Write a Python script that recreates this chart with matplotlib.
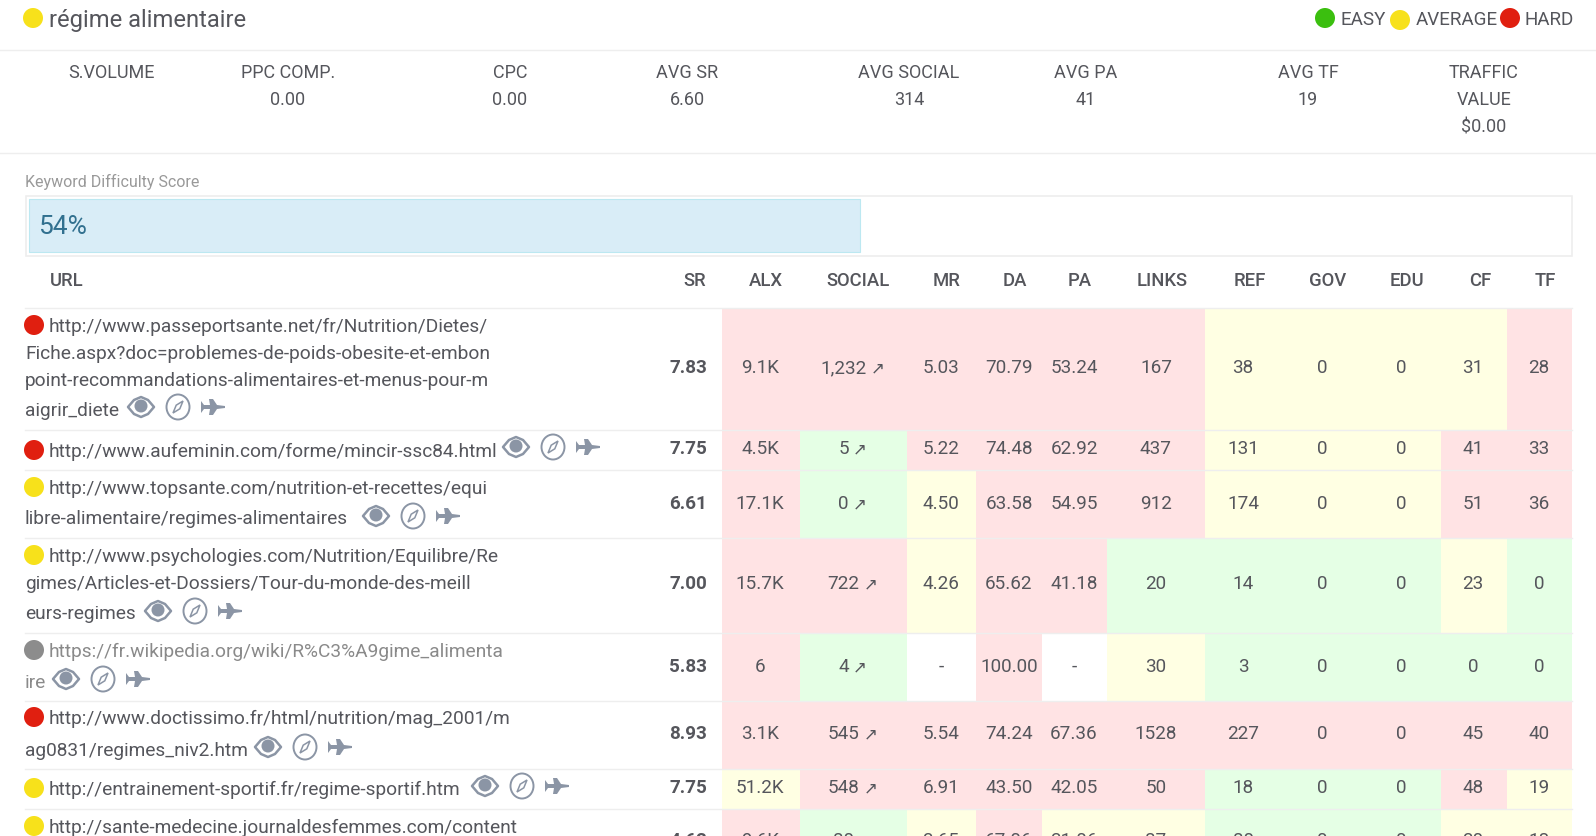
import matplotlib
matplotlib.use('Agg')
import matplotlib.pyplot as plt
from matplotlib.patches import Circle, Ellipse, Polygon, Rectangle

plt.rcParams['font.family'] = ['Roboto', 'DejaVu Sans']

# data
keyword = 'régime alimentaire'
legend_labels = ['EASY', 'AVERAGE', 'HARD']
summary_heads = ['S.VOLUME', 'PPC COMP.', 'CPC', 'AVG SR', 'AVG SOCIAL', 'AVG PA', 'AVG TF', 'TRAFFIC\nVALUE']
summary_vals = ['', '0.00', '0.00', '6.60', '314', '41', '19', '$0.00']
score = 54
columns = ['SR', 'ALX', 'SOCIAL', 'MR', 'DA', 'PA', 'LINKS', 'REF', 'GOV', 'EDU', 'CF', 'TF']

url_lines = [
    ['http://www.passeportsante.net/fr/Nutrition/Dietes/', 'Fiche.aspx?doc=problemes-de-poids-obesite-et-embon',
     'point-recommandations-alimentaires-et-menus-pour-m', 'aigrir_diete'],
    ['http://www.aufeminin.com/forme/mincir-ssc84.html'],
    ['http://www.topsante.com/nutrition-et-recettes/equi', 'libre-alimentaire/regimes-alimentaires'],
    ['http://www.psychologies.com/Nutrition/Equilibre/Re', 'gimes/Articles-et-Dossiers/Tour-du-monde-des-meill', 'eurs-regimes'],
    ['https://fr.wikipedia.org/wiki/R%C3%A9gime_alimenta', 'ire'],
    ['http://www.doctissimo.fr/html/nutrition/mag_2001/m', 'ag0831/regimes_niv2.htm'],
    ['http://entrainement-sportif.fr/regime-sportif.htm'],
    ['http://sante-medecine.journaldesfemmes.com/content'],
]
row_levels = ['hard', 'hard', 'average', 'average', 'none', 'hard', 'average', 'average']

sr = ['7.83', '7.75', '6.61', '7.00', '5.83', '8.93', '7.75', '4.62']
alx = ['9.1K', '4.5K', '17.1K', '15.7K', '6', '3.1K', '51.2K', '9.6K']
social = ['1,232', '5', '0', '722', '4', '545', '548', '80']
mr = ['5.03', '5.22', '4.50', '4.26', '-', '5.54', '6.91', '3.65']
da = ['70.79', '74.48', '63.58', '65.62', '100.00', '74.24', '43.50', '67.06']
pa = ['53.24', '62.92', '54.95', '41.18', '-', '67.36', '42.05', '31.06']
links = ['167', '437', '912', '20', '30', '1528', '50', '87']
ref = ['38', '131', '174', '14', '3', '227', '18', '80']
gov = ['0', '0', '0', '0', '0', '0', '0', '0']
edu = ['0', '0', '0', '0', '0', '0', '0', '0']
cf = ['31', '41', '51', '23', '0', '45', '48', '30']
tf = ['28', '33', '36', '0', '0', '40', '19', '18']
table = [sr, alx, social, mr, da, pa, links, ref, gov, edu, cf, tf]

# R/Y/G/W per cell, ALX to TF
cell_levels = ['RRRRRRYYYYR', 'RGRRRRYYYRR', 'RGYRRRYYYRR', 'RRYRRGGGGYG',
               'RGWRWYGGGGG', 'RRRRRRRRRRR', 'YRRRRRGGGRY', 'RGYRYYGGGYY']

# layout in screenshot pixels
W, H = 1596, 837
LEFT, RIGHT = 25, 1572
col_edges = [722, 800, 907, 976, 1042, 1107, 1205, 1283, 1362, 1441, 1507, 1572]
head_x = [695, 766, 858, 947, 1015, 1080, 1162, 1250, 1328, 1407, 1480, 1545]
val_x = [688, 760, 852, 941, 1009, 1074, 1156, 1243, 1322, 1401, 1473, 1539]
row_edges = [309, 431, 471, 539, 634, 702, 770, 810, 860]
val_y = [367, 448, 503, 583, 666, 733, 787, 840]
line_y = [[326, 353, 380, 410], [451], [488, 518], [556, 583, 613], [651, 682], [718, 750], [789], [827]]
icon_x = [141, 516, 376, 158, 66, 268, 485]
icon_y = [408, 448, 517, 612, 680, 748, 787]
summary_x = [111, 288, 510, 687, 909, 1086, 1308, 1484]

TEXT = '#55565c'
ICON = '#8b95a5'
dots = {'easy': '#3bbf0f', 'average': '#f7e11b', 'hard': '#e01f10', 'none': '#8c8c8c'}
fills = {'R': '#ffe3e4', 'Y': '#ffffe3', 'G': '#e5ffe5', 'W': '#ffffff'}
LINE = '#eeeeee'

fig = plt.figure(figsize=(W / 100, H / 100), dpi=100)
ax = fig.add_axes([0, 0, 1, 1])
ax.set_xlim(0, W)
ax.set_ylim(H, 0)
ax.axis('off')


def dot(x, y, level):
    ax.add_patch(Circle((x, y), 10, color=dots[level], lw=0, zorder=4))


def label(x, y, s, size=13.6, ha='center', color=TEXT, **kw):
    return ax.text(x, y - 1, s, fontsize=size, ha=ha, va='center_baseline', color=color, zorder=5, **kw)


def social_label(x, y, s):
    # number plus a small thin arrow, centred together
    t = label(x, y, s, ha='left')
    w = t.get_window_extent(fig.canvas.get_renderer()).width
    t.set_x(x - (w + 17) / 2)
    label(x + (w + 17) / 2 - 6, y, '↗', size=12, family='DejaVu Sans')


def icons(x, y):
    # eye
    ax.add_patch(Polygon([(x - 13, y), (x - 7, y - 7), (x, y - 10), (x + 7, y - 7), (x + 13, y),
                          (x + 7, y + 7), (x, y + 10), (x - 7, y + 7)],
                         fc='none', ec=ICON, lw=1.8, joinstyle='round', zorder=4))
    ax.add_patch(Circle((x, y - 1), 6.5, color=ICON, lw=0, zorder=4))
    # compass
    cx = x + 37
    ax.add_patch(Ellipse((cx, y), 23, 25, fc='none', ec=ICON, lw=1.4, zorder=4))
    ax.add_patch(Polygon([(cx + 5, y - 6), (cx + 1.8, y + 1.8), (cx - 5, y + 6), (cx - 1.8, y - 1.8)],
                         fc='none', ec=ICON, lw=1.1, zorder=4))
    # plane
    px = x + 72
    ax.add_patch(Polygon([(px - 12, y - 6), (px - 9, y - 2), (px - 3, y - 2), (px - 4, y - 8), (px, y - 8),
                          (px + 4, y - 2), (px + 12, y - 1), (px + 12, y + 1), (px + 4, y + 2), (px, y + 8),
                          (px - 4, y + 8), (px - 3, y + 2), (px - 9, y + 2), (px - 12, y + 6)],
                         fc=ICON, ec='none', zorder=4))


# header strip
dot(33, 19, 'average')
label(49, 19, keyword, size=17.1, ha='left')
for x, y, lv in [(1325, 19, 'easy'), (1400, 21, 'average'), (1510, 19, 'hard')]:
    dot(x, y, lv)
for x, s in zip([1341, 1416, 1525], legend_labels):
    label(x, 19, s, ha='left')
ax.plot([0, W], [51, 51], color=LINE, lw=1)
ax.plot([0, W], [154, 154], color=LINE, lw=1)

# summary row
for x, head, val in zip(summary_x, summary_heads, summary_vals):
    parts = head.split('\n') + [val]
    for y, s in zip([72, 99, 126], parts):
        label(x, y, s, size=13)

# score bar
label(25, 181, 'Keyword Difficulty Score', size=11.5, ha='left', color='#999999')
ax.add_patch(Rectangle((25.5, 197), RIGHT - 25.5, 60, fc='white', ec=LINE, lw=1.2))
ax.barh(226.5, score / 100 * 1539, height=53, left=29, color='#d9edf7', edgecolor='#bce8f1', lw=0.8, zorder=2)
label(38, 225, f'{score}%', size=19, ha='left', color='#31708f')

# table head
label(49.5, 280, 'URL', size=13.3, ha='left', fontweight='medium')
for x, s in zip(head_x, columns):
    label(x, 280, s, size=13.3, fontweight='medium')

# cells
for r, levels in enumerate(cell_levels):
    top, bottom = row_edges[r], row_edges[r + 1]
    for c, lv in enumerate(levels):
        ax.add_patch(Rectangle((col_edges[c], top), col_edges[c + 1] - col_edges[c], bottom - top,
                               fc=fills[lv], ec='none', zorder=1))
for y in row_edges[:-1]:
    ax.plot([LEFT, RIGHT], [y, y], color=LINE, lw=1, zorder=3)

# urls and values
for r in range(len(url_lines)):
    url_color = '#8a8a8a' if row_levels[r] == 'none' else TEXT
    dot(34, line_y[r][0], row_levels[r])
    for i, (y, s) in enumerate(zip(line_y[r], url_lines[r])):
        label(49 if i == 0 else 25, y, s, size=13.75, ha='left', color=url_color)
    if r < len(icon_x):
        icons(icon_x[r], icon_y[r])
    for c, col in enumerate(table):
        if columns[c] == 'SOCIAL':
            social_label(val_x[c], val_y[r], col[r])
        else:
            label(val_x[c], val_y[r], col[r], fontweight='bold' if c == 0 else 'normal')

fig.savefig('out.png', dpi=100)
